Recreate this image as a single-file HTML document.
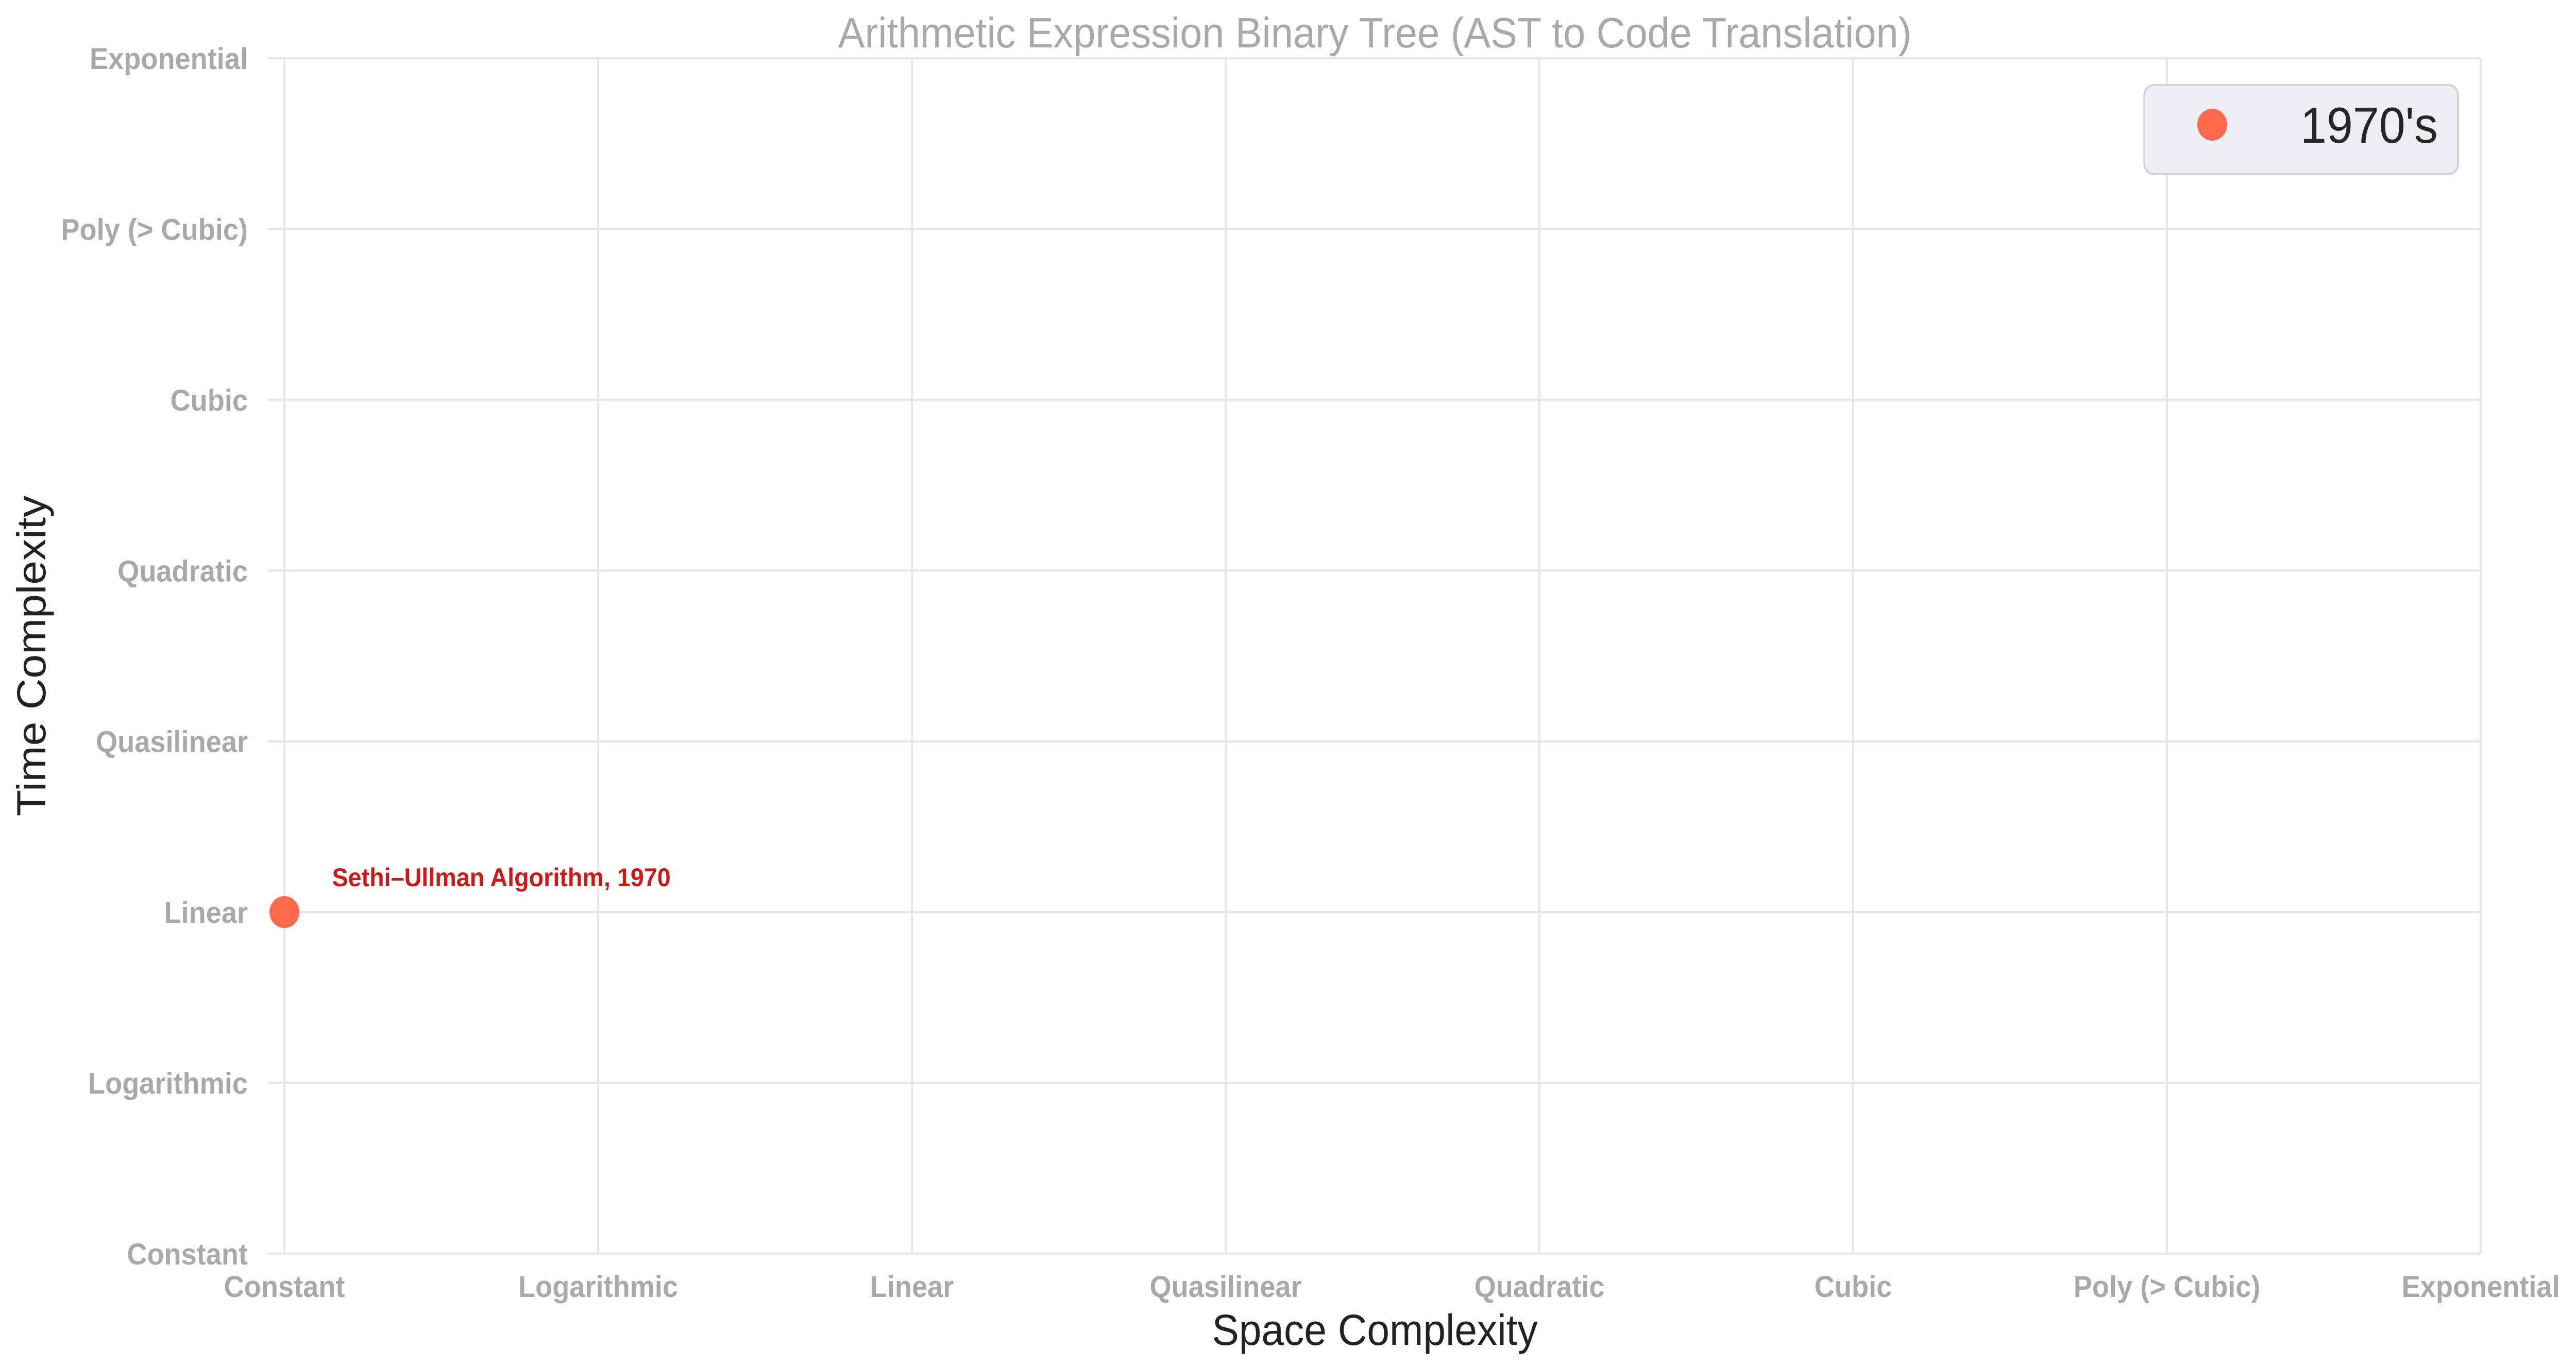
<!DOCTYPE html>
<html><head><meta charset="utf-8"><style>
html,body{margin:0;padding:0;background:#fff;width:100%;height:100%;overflow:hidden;}
svg{display:block;width:100vw;height:100vh;font-family:"Liberation Sans",Arial,sans-serif;}
</style></head><body>
<svg id="chart" viewBox="0 0 5353 2651" preserveAspectRatio="none">
<rect width="5353" height="2651" fill="#fff"/>
<g id="grid"></g>
<g id="xticks"></g>
<g id="yticks"></g>
<g id="points"></g>
<text x="2857" y="92" text-anchor="middle" font-size="83" fill="#a9a9a9">Arithmetic Expression Binary Tree (AST to Code Translation)</text>
<text x="2857" y="2610" text-anchor="middle" font-size="84" fill="#222">Space Complexity</text>
<text transform="translate(94,1273) rotate(-90)" text-anchor="middle" font-size="84" fill="#222">Time Complexity</text>
<g>
<rect x="4456" y="165" width="652" height="173" rx="20" fill="#eeedf3" stroke="#d3d3d6" stroke-width="4"/>
<circle cx="4597" cy="242" r="31" fill="#ff6a4c"/>
<text x="5066" y="277" text-anchor="end" font-size="98" fill="#262626">1970's</text>
</g>
</svg>
<script>
const xCategories = ["Constant","Logarithmic","Linear","Quasilinear","Quadratic","Cubic","Poly (> Cubic)","Exponential"];
const yCategories = ["Constant","Logarithmic","Linear","Quasilinear","Quadratic","Cubic","Poly (> Cubic)","Exponential"];
const pointLabels = ["Sethi–Ullman Algorithm, 1970"];
const pointX = [0];
const pointY = [2];
const NS = "http://www.w3.org/2000/svg";
const L = 591, R = 5155, T = 113, B = 2433;
function xs(i){ return L + i * (R - L) / (xCategories.length - 1); }
function ys(i){ return B - i * (B - T) / (yCategories.length - 1); }
function mk(tag, attrs, parent){ const e = document.createElementNS(NS, tag); for (const k in attrs) e.setAttribute(k, attrs[k]); parent.appendChild(e); return e; }
const grid = document.getElementById('grid');
const xt = document.getElementById('xticks');
const yt = document.getElementById('yticks');
const pts = document.getElementById('points');
xCategories.forEach((c, i) => {
  const ln = mk('line', {x1: xs(i), x2: xs(i), y1: T, y2: B, stroke: '#e6e6e6', 'stroke-width': 4}, grid);
  
  
  const t = mk('text', {x: xs(i), y: B + 84, 'text-anchor': 'middle', 'font-size': 58, 'font-weight': 'bold', fill: '#a9a9a9'}, xt);
  t.textContent = c;
  
  
});
yCategories.forEach((c, i) => {
  const ln = mk('line', {x1: L - 35, x2: R, y1: ys(i), y2: ys(i), stroke: '#e6e6e6', 'stroke-width': 4}, grid);
  
  
  const t = mk('text', {x: 515, y: ys(i) + 21, 'text-anchor': 'end', 'font-size': 58, 'font-weight': 'bold', fill: '#a9a9a9'}, yt);
  t.textContent = c;
  
  
});
pointX.forEach((v, i) => {
  const c = mk('circle', {cx: xs(v), cy: ys(pointY[i]), r: 31, fill: '#ff6a4c'}, pts);
  
  
  const t = mk('text', {x: xs(v) + 99, y: ys(pointY[i]) - 50, 'font-size': 50, 'font-weight': 'bold', fill: '#cc1a1a'}, pts);
  t.textContent = pointLabels[i];
  
  
});
</script>
</body></html>
